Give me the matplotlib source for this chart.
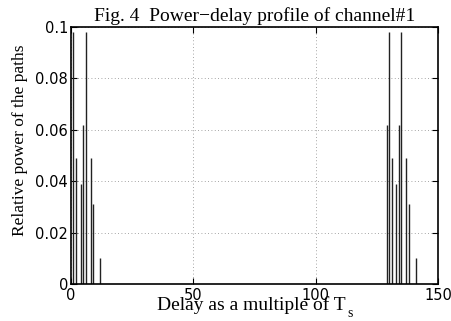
import matplotlib
matplotlib.use("Agg")
import matplotlib.pyplot as plt

# delays (multiples of Ts) and relative path powers
delays = [1, 2, 4, 5, 6, 8, 9, 12,
          129, 130, 131, 133, 134, 135, 137, 138, 141]
powers = [0.098, 0.049, 0.039, 0.062, 0.098, 0.049, 0.031, 0.010,
          0.062, 0.098, 0.049, 0.039, 0.062, 0.098, 0.049, 0.031, 0.010]

xticks = [0, 50, 100, 150]
yticks = [0, 0.02, 0.04, 0.06, 0.08, 0.1]
yticklabels = ['0', '0.02', '0.04', '0.06', '0.08', '0.1']

serif = 'Liberation Serif'
sans = 'DejaVu Sans'

fig = plt.figure(figsize=(4.51, 3.21), dpi=100)
ax = fig.add_axes([71/451, 1 - 284/321, (438 - 71)/451, (284 - 27)/321])

ax.vlines(delays, 0, powers, colors='#222222', linewidth=1.0)

ax.set_xlim(0, 150)
ax.set_ylim(0, 0.1)
ax.set_xticks(xticks)
ax.set_yticks(yticks)
ax.set_xticklabels([str(t) for t in xticks], fontfamily=sans, fontsize=10.5)
ax.set_yticklabels(yticklabels, fontfamily=sans, fontsize=10.5)
ax.tick_params(direction='in', length=4, width=0.8, top=True, right=True,
               pad=2)
ax.tick_params(axis='x', pad=3)
ax.grid(True, linestyle=(0, (1, 3)), color='#888888', linewidth=0.6)
for s in ax.spines.values():
    s.set_linewidth(1.2)

ax.set_title('Fig. 4  Power\u2212delay profile of channel#1',
             fontfamily=serif, fontsize=14, pad=4)
ax.set_ylabel('Relative power of the paths', fontfamily=serif, fontsize=12.5)
ax.yaxis.set_label_coords(-0.118, 0.56)

# x label with a MATLAB-style low subscript
xl = fig.text(157/451, 1 - 296/321, 'Delay as a multiple of T',
              ha='left', va='top', fontfamily=serif, fontsize=14)
fig.canvas.draw()
bb = xl.get_window_extent()
fig.text((bb.x1 + 2)/451, 1 - 320/321, 's', ha='left', va='bottom',
         fontfamily=serif, fontsize=10)

fig.savefig('out.png', dpi=100)
